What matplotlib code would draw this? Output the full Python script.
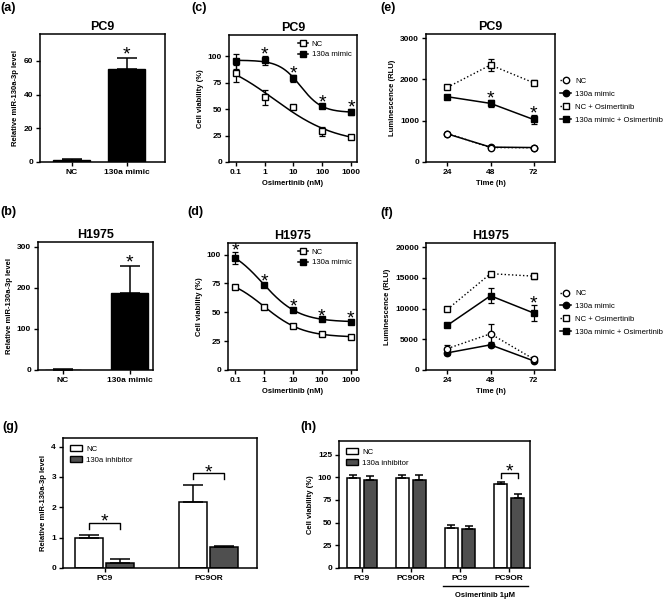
import numpy as np
import matplotlib
matplotlib.use("Agg")
import matplotlib.pyplot as plt
from matplotlib.lines import Line2D
from matplotlib.patches import Patch

plt.rcParams["font.family"] = ["Liberation Sans", "DejaVu Sans"]
plt.rcParams["font.weight"] = "bold"
plt.rcParams["axes.labelweight"] = "bold"
plt.rcParams["axes.titleweight"] = "bold"
plt.rcParams["axes.linewidth"] = 1.1

# -------------------------------
# Data
# -------------------------------
# (a)/(b) miR-130a-3p level after mimic transfection
mimic_groups = ["NC", "130a mimic"]
pc9_level = [1.0, 55.5]
pc9_level_err = [0.5, 6.0]
h1975_level = [1.0, 188.0]
h1975_level_err = [0.3, 64.0]

# (c)/(d) cell viability vs osimertinib dose
osi_dose = [0.1, 1, 10, 100, 1000]
pc9_via_nc = [84, 61, 52, 29, 24]
pc9_via_nc_err = [8, 7, 2, 4, 1.5]
pc9_via_mimic = [95, 96, 79, 53, 47]
pc9_via_mimic_err = [7, 4, 3, 1.5, 3]
pc9_star_dose = [1, 10, 100, 1000]
h1975_via_nc = [72, 55, 38, 31, 29]
h1975_via_nc_err = [1, 1, 1, 1, 1]
h1975_via_mimic = [97, 74, 52, 44, 42]
h1975_via_mimic_err = [5, 1.5, 1.5, 1, 1]
h1975_star_dose = [0.1, 1, 10, 100, 1000]

# (e)/(f) luminescence over time
time_h = [24, 48, 72]
lum_labels = ["NC", "130a mimic", "NC + Osimertinib", "130a mimic + Osimertinib"]
pc9_lum_nc = [690, 350, 345]
pc9_lum_nc_err = [20, 30, 30]
pc9_lum_mimic = [680, 360, 350]
pc9_lum_mimic_err = [20, 30, 30]
pc9_lum_nc_osi = [1810, 2350, 1920]
pc9_lum_nc_osi_err = [40, 150, 60]
pc9_lum_mimic_osi = [1580, 1420, 1030]
pc9_lum_mimic_osi_err = [40, 80, 100]
pc9_lum_star_time = [48, 72]
h1975_lum_nc = [3500, 5900, 1800]
h1975_lum_nc_err = [600, 1600, 300]
h1975_lum_mimic = [2800, 4100, 1500]
h1975_lum_mimic_err = [300, 400, 200]
h1975_lum_nc_osi = [9900, 15700, 15300]
h1975_lum_nc_osi_err = [300, 300, 500]
h1975_lum_mimic_osi = [7300, 12100, 9300]
h1975_lum_mimic_osi_err = [300, 1200, 1300]
h1975_lum_star_time = [72]

# (g) miR-130a-3p level after inhibitor
inh_groups = ["PC9", "PC9OR"]
inh_level_nc = [1.0, 2.17]
inh_level_nc_err = [0.1, 0.57]
inh_level_inh = [0.18, 0.70]
inh_level_inh_err = [0.1, 0.03]

# (h) cell viability after inhibitor
via_groups = ["PC9", "PC9OR", "PC9", "PC9OR"]
via_nc = [99.5, 99.5, 44.5, 92.5]
via_nc_err = [3, 3, 3.3, 2.6]
via_inh = [97.4, 97.4, 43.4, 77.5]
via_inh_err = [3.5, 5.5, 3, 4]

GREY = "#4f4f4f"
TICK_FS = 6
LABEL_FS = 5.5
TITLE_FS = 9
LEGEND_FS = 5.6
W, H = 669, 600
fig = plt.figure(figsize=(W / 100, H / 100), dpi=100)


def place(l, r, t, b):
    return fig.add_axes([l / W, 1 - b / H, (r - l) / W, (b - t) / H])


def style(ax):
    for s in ax.spines.values():
        s.set_linewidth(1.1)
    ax.tick_params(direction="out", length=3, width=1, labelsize=TICK_FS, pad=2)
    ax.minorticks_off()


def star(ax, x, y, dy=-2.5):
    ax.annotate("*", (x, y), xytext=(0, dy), textcoords="offset points",
                ha="center", va="baseline", fontsize=14, fontweight="normal")


def panel_label(x, y, s):
    fig.text(x / W, 1 - y / H, s, fontsize=9, ha="left", va="center")


def fit_4pl(x, y):
    # crude grid search 4PL fit, bottom/top solved by least squares
    lx = np.log10(x)
    y = np.asarray(y, float)
    best = None
    for logc in np.linspace(-2, 4, 241):
        for h in np.linspace(0.4, 1.6, 49):
            f = 1 / (1 + 10 ** ((lx - logc) * h))
            A = np.column_stack([np.ones_like(f), f])
            coef, *_ = np.linalg.lstsq(A, y, rcond=None)
            r = np.sum((A @ coef - y) ** 2)
            if best is None or r < best[0]:
                best = (r, coef[0], coef[1], logc, h)
    return best[1:]


def curve_4pl(xs, p):
    bottom, span, logc, h = p
    return bottom + span / (1 + 10 ** ((np.log10(xs) - logc) * h))


# -------------------------------
# (a)/(b) bar charts
# -------------------------------
def mimic_bars(ax, vals, errs, title, ylim, yticks, xlim, width):
    pos = np.arange(len(mimic_groups))
    ax.bar(pos, vals, width=width, color="k", edgecolor="k", linewidth=1)
    ax.errorbar(pos, vals, yerr=[np.zeros(len(vals)), errs], fmt="none",
                ecolor="k", elinewidth=1.1, capsize=7.5, capthick=1.1)
    star(ax, pos[1], vals[1] + errs[1], dy=-1)
    ax.set_xticks(pos, mimic_groups)
    ax.tick_params(axis="x", length=0)
    ax.set_xlim(*xlim)
    ax.set_ylim(*ylim)
    ax.set_yticks(yticks)
    ax.set_ylabel("Relative miR-130a-3p level", fontsize=LABEL_FS, labelpad=3)
    ax.set_title(title, fontsize=TITLE_FS, pad=3)
    style(ax)


ax_a = place(40, 165, 34, 162)
mimic_bars(ax_a, pc9_level, pc9_level_err, "PC9", (0, 76), [0, 20, 40, 60],
           (-0.573, 1.70), 0.67)
ax_b = place(38, 153, 242, 370)
mimic_bars(ax_b, h1975_level, h1975_level_err, "H1975", (0, 311),
           [0, 100, 200, 300], (-0.376, 1.353), 0.556)


# -------------------------------
# (c)/(d) dose response
# -------------------------------
def dose_panel(ax, nc, nc_err, mim, mim_err, star_doses, title, ytop):
    xs = np.logspace(-1, 3, 200)
    for y, err, face in ((mim, mim_err, "k"), (nc, nc_err, "white")):
        ax.plot(xs, curve_4pl(xs, fit_4pl(osi_dose, y)), color="k", lw=1.1)
        ax.errorbar(osi_dose, y, yerr=err, fmt="none", ecolor="k",
                    elinewidth=0.9, capsize=2.3, capthick=0.9)
        ax.plot(osi_dose, y, "s", mfc=face, mec="k", ms=4.6, mew=1, zorder=3)
    for d in star_doses:
        i = osi_dose.index(d)
        star(ax, d, mim[i] + mim_err[i])
    ax.set_xscale("log")
    ax.set_xlim(0.057, 1620)
    ax.set_xticks(osi_dose, ["0.1", "1", "10", "100", "1000"])
    ax.set_ylim(0, ytop)
    ax.set_yticks([0, 25, 50, 75, 100])
    ax.set_ylabel("Cell viability (%)", fontsize=LABEL_FS, labelpad=3)
    ax.set_xlabel("Osimertinib (nM)", fontsize=LABEL_FS, labelpad=3)
    ax.set_title(title, fontsize=TITLE_FS, pad=3)
    handles = [Line2D([], [], color="k", lw=1.1, marker="s", mfc="white", mec="k", ms=4.6),
               Line2D([], [], color="k", lw=1.1, marker="s", mfc="k", mec="k", ms=4.6)]
    ax.legend(handles, ["NC", "130a mimic"], loc="upper right", frameon=False,
              prop={"size": LEGEND_FS, "weight": "normal"}, handlelength=1.3,
              handletextpad=0.5, labelspacing=0.4, borderaxespad=0.3)
    style(ax)
    ax.minorticks_off()


ax_c = place(229, 357, 35, 162)
dose_panel(ax_c, pc9_via_nc, pc9_via_nc_err, pc9_via_mimic, pc9_via_mimic_err,
           pc9_star_dose, "PC9", 120)
ax_d = place(228, 357, 243, 370)
dose_panel(ax_d, h1975_via_nc, h1975_via_nc_err, h1975_via_mimic,
           h1975_via_mimic_err, h1975_star_dose, "H1975", 110)


# -------------------------------
# (e)/(f) luminescence time course
# -------------------------------
def lum_panel(ax, series, star_times, title, ylim, yticks, leg_y):
    # series order: mimic, NC, mimic+osi, NC+osi (open markers drawn last)
    styles = {
        "NC": ("o", "white", ":"),
        "130a mimic": ("o", "k", "-"),
        "NC + Osimertinib": ("s", "white", ":"),
        "130a mimic + Osimertinib": ("s", "k", "-"),
    }
    handles = {}
    for label, (vals, errs) in series.items():
        m, face, ls = styles[label]
        ax.errorbar(time_h, vals, yerr=errs, fmt="none", ecolor="k",
                    elinewidth=0.9, capsize=2.3, capthick=0.9)
        ln, = ax.plot(time_h, vals, ls=ls, color="k",
                      lw=1.1 if ls == "-" else 1.0, marker=m, mfc=face,
                      mec="k", ms=4.6, mew=1)
        handles[label] = ln
    osi_vals, osi_errs = series["130a mimic + Osimertinib"]
    for t in star_times:
        i = time_h.index(t)
        star(ax, t, osi_vals[i] + osi_errs[i])
    ax.set_xlim(12, 84)
    ax.set_xticks(time_h)
    ax.set_ylim(*ylim)
    ax.set_yticks(yticks)
    ax.set_ylabel("Luminescence (RLU)", fontsize=LABEL_FS, labelpad=3)
    ax.set_xlabel("Time (h)", fontsize=LABEL_FS, labelpad=3)
    ax.set_title(title, fontsize=TITLE_FS, pad=3)
    ax.legend([handles[k] for k in lum_labels], lum_labels, loc="center left",
              bbox_to_anchor=(1.0, leg_y), frameon=False,
              prop={"size": LEGEND_FS, "weight": "normal"}, handlelength=1.3,
              handletextpad=0.6, labelspacing=0.7, borderaxespad=0.3)
    style(ax)


ax_e = place(426, 555, 34, 162)
lum_panel(ax_e, {
    "130a mimic": (pc9_lum_mimic, pc9_lum_mimic_err),
    "NC": (pc9_lum_nc, pc9_lum_nc_err),
    "130a mimic + Osimertinib": (pc9_lum_mimic_osi, pc9_lum_mimic_osi_err),
    "NC + Osimertinib": (pc9_lum_nc_osi, pc9_lum_nc_osi_err),
}, pc9_lum_star_time, "PC9", (0, 3100), [0, 1000, 2000, 3000], 0.48)

ax_f = place(426, 555, 243, 370)
lum_panel(ax_f, {
    "130a mimic": (h1975_lum_mimic, h1975_lum_mimic_err),
    "NC": (h1975_lum_nc, h1975_lum_nc_err),
    "130a mimic + Osimertinib": (h1975_lum_mimic_osi, h1975_lum_mimic_osi_err),
    "NC + Osimertinib": (h1975_lum_nc_osi, h1975_lum_nc_osi_err),
}, h1975_lum_star_time, "H1975", (0, 20700),
    [0, 5000, 10000, 15000, 20000], 0.45)


# -------------------------------
# (g)/(h) inhibitor bar charts
# -------------------------------
def grouped_bars(ax, groups, nc, nc_err, inh, inh_err, off, width, capsize):
    pos = np.arange(len(groups))
    for p, vals, errs, col in ((pos - off, nc, nc_err, "white"),
                               (pos + off, inh, inh_err, GREY)):
        ax.bar(p, vals, width=width, color=col, edgecolor="k", linewidth=1.1)
        ax.errorbar(p, vals, yerr=[np.zeros(len(vals)), errs], fmt="none",
                    ecolor="k", elinewidth=1.1, capsize=capsize, capthick=1.1)
    ax.set_xticks(pos, groups)
    ax.tick_params(axis="x", length=0)
    handles = [Patch(facecolor="white", edgecolor="k", linewidth=1),
               Patch(facecolor=GREY, edgecolor="k", linewidth=1)]
    ax.legend(handles, ["NC", "130a inhibitor"], loc="upper left", frameon=False,
              prop={"size": LEGEND_FS, "weight": "normal"}, handlelength=1.6,
              handleheight=0.9, handletextpad=0.5, labelspacing=0.4,
              borderaxespad=0.5)
    style(ax)
    return pos


def bracket(ax, x0, x1, y, leg):
    ax.plot([x0, x0, x1, x1], [y - leg, y, y, y - leg], color="k", lw=1.0)
    star(ax, (x0 + x1) / 2, y, dy=-3)


ax_g = place(63, 257, 438, 568)
pos_g = grouped_bars(ax_g, inh_groups, inh_level_nc, inh_level_nc_err,
                     inh_level_inh, inh_level_inh_err, 0.15, 0.27, 7)
for i in range(len(inh_groups)):
    top = max(inh_level_nc[i] + inh_level_nc_err[i], inh_level_inh[i] + inh_level_inh_err[i])
    bracket(ax_g, pos_g[i] - 0.15, pos_g[i] + 0.15, top + 0.39, 0.19)
ax_g.set_xlim(-0.404, 1.469)
ax_g.set_ylim(0, 4.28)
ax_g.set_yticks([0, 1, 2, 3, 4])
ax_g.set_ylabel("Relative miR-130a-3p level", fontsize=LABEL_FS, labelpad=3)

ax_h = place(339, 530, 441, 568)
pos_h = grouped_bars(ax_h, via_groups, via_nc, via_nc_err, via_inh, via_inh_err,
                     0.175, 0.27, 3)
top = max(via_nc[3] + via_nc_err[3], via_inh[3] + via_inh_err[3])
bracket(ax_h, pos_h[3] - 0.175, pos_h[3] + 0.175, top + 10, 5.4)
ax_h.set_xlim(-0.463, 3.424)
ax_h.set_ylim(0, 140)
ax_h.set_yticks([0, 25, 50, 75, 100, 125])
ax_h.set_ylabel("Cell viability (%)", fontsize=LABEL_FS, labelpad=3)
xt = ax_h.get_xaxis_transform()
ax_h.plot([1.65, 3.38], [-0.142, -0.142], color="k", lw=1.0,
          transform=xt, clip_on=False)
ax_h.text(2.5, -0.215, "Osimertinib 1μM", transform=xt, ha="center",
          va="center", fontsize=LABEL_FS)

# panel letters
panel_label(0, 8, "(a)")
panel_label(191, 8, "(c)")
panel_label(380, 8, "(e)")
panel_label(0, 212, "(b)")
panel_label(187, 212, "(d)")
panel_label(380, 213, "(f)")
panel_label(2, 427, "(g)")
panel_label(300, 427, "(h)")

fig.savefig("out.png", dpi=100)
